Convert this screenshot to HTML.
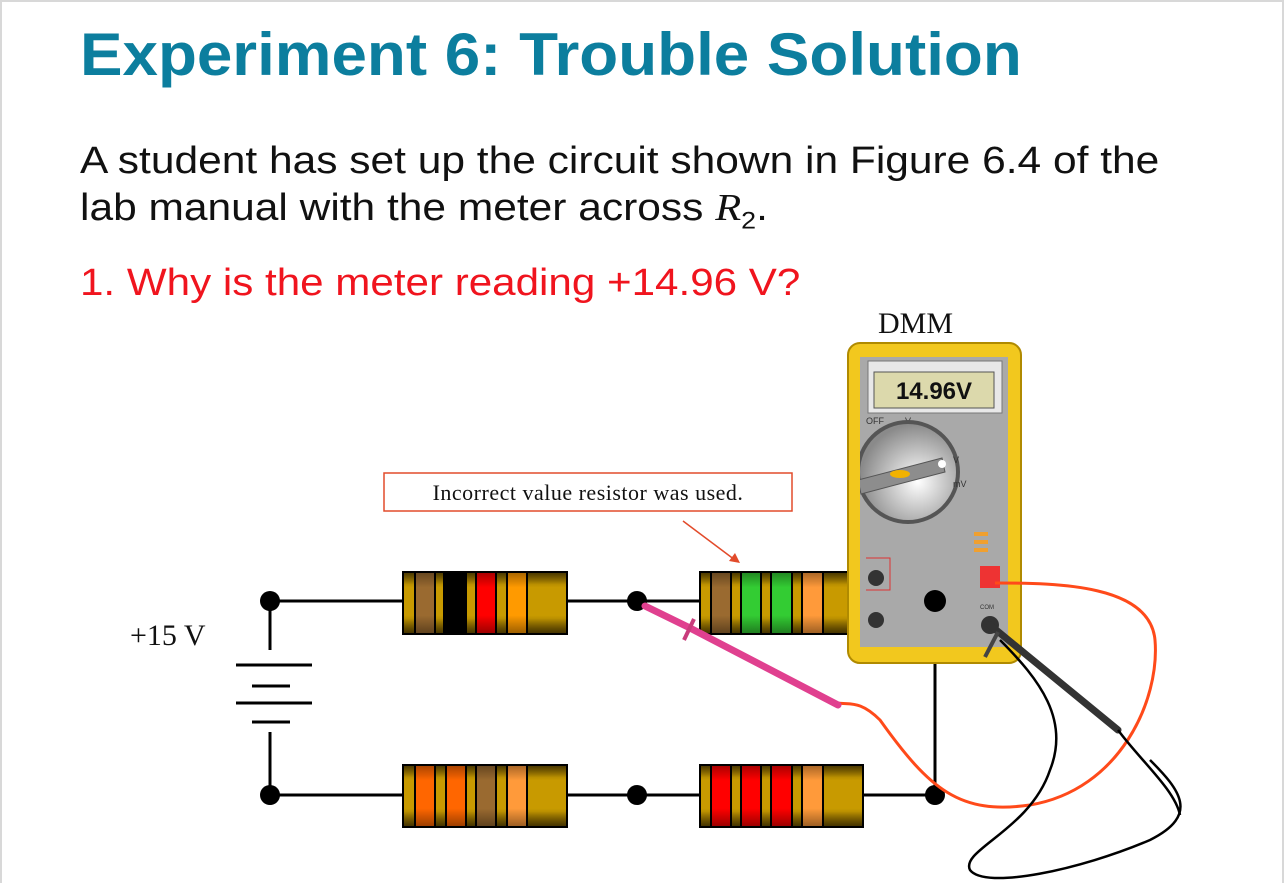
<!DOCTYPE html>
<html><head><style>
html,body{margin:0;padding:0;background:#fff;}
body{width:1284px;height:885px;position:relative;overflow:hidden;font-family:"Liberation Sans",sans-serif;}
.frame{position:absolute;left:0;top:0;width:1280px;height:881px;border:2px solid #d8d8d8;border-bottom:none;}
h1{position:absolute;left:80px;top:20px;margin:0;font-size:60px;font-weight:bold;color:#0c7e9e;transform:scaleX(1.062);transform-origin:0 0;white-space:nowrap;}
.p{position:absolute;left:80px;top:138px;font-size:38px;line-height:47px;color:#111;margin:0;transform:scaleX(1.118);transform-origin:0 0;white-space:nowrap;}
.q{position:absolute;left:80px;top:262px;font-size:38px;color:#f0141e;margin:0;transform:scaleX(1.109);transform-origin:0 0;white-space:nowrap;}
</style></head><body>
<div class="frame"></div>
<h1>Experiment 6: Trouble Solution</h1>
<p class="p">A student has set up the circuit shown in Figure 6.4 of the<br>lab manual with the meter across <i style="font-family:'Liberation Serif',serif">R</i><sub style="font-size:24px">2</sub>.</p>
<p class="q">1. Why is the meter reading +14.96 V?</p>
<svg width="1284" height="885" style="position:absolute;left:0;top:0" xmlns="http://www.w3.org/2000/svg">
<defs>
<linearGradient id="g" x1="0" y1="0" x2="0" y2="1"><stop offset="0" stop-color="#6b5000"/><stop offset=".2" stop-color="#c89a00"/><stop offset=".75" stop-color="#c89a00"/><stop offset="1" stop-color="#6b5000"/></linearGradient>
<linearGradient id="sh" x1="0" y1="0" x2="0" y2="1"><stop offset="0" stop-color="#000" stop-opacity=".35"/><stop offset=".25" stop-color="#000" stop-opacity="0"/><stop offset=".7" stop-color="#000" stop-opacity="0"/><stop offset="1" stop-color="#000" stop-opacity=".4"/></linearGradient>
<radialGradient id="dial" cx=".6" cy=".6" r=".6"><stop offset="0" stop-color="#fff"/><stop offset="1" stop-color="#8a8a8a"/></radialGradient>
<clipPath id="face"><rect x="860" y="357" width="148" height="290"/></clipPath>
</defs>
<text x="878" y="333" font-family="Liberation Serif" font-size="30" fill="#111">DMM</text>
<g stroke="#000" stroke-width="3" fill="none">
<path d="M270 601V650M270 732V795M270 601H403M567 601H700M863 601H935M935 601V795M270 795H403M567 795H700M863 795H935"/>
<path d="M236 665H312M252 686H290M236 703H312M252 722H290"/>
</g>
<text x="130" y="645" font-family="Liberation Serif" font-size="30" fill="#111">+15 V</text>
<g stroke="#000" stroke-width="2">
<g><rect x="403" y="572" width="164" height="62" fill="url(#g)"/><rect x="415" y="572" width="20" height="62" fill="#9a6a30"/><rect x="444" y="572" width="22" height="62" fill="#000"/><rect x="476" y="572" width="20" height="62" fill="#ff0000"/><rect x="507" y="572" width="20" height="62" fill="#ff9a00"/><rect x="403" y="572" width="164" height="62" fill="url(#sh)"/></g>
<g><rect x="700" y="572" width="163" height="62" fill="url(#g)"/><rect x="711" y="572" width="20" height="62" fill="#9a6a30"/><rect x="741" y="572" width="20" height="62" fill="#33cc33"/><rect x="771" y="572" width="21" height="62" fill="#33cc33"/><rect x="802" y="572" width="21" height="62" fill="#ff9a3a"/><rect x="700" y="572" width="163" height="62" fill="url(#sh)"/></g>
<g><rect x="403" y="765" width="164" height="62" fill="url(#g)"/><rect x="415" y="765" width="20" height="62" fill="#ff6600"/><rect x="446" y="765" width="20" height="62" fill="#ff6600"/><rect x="476" y="765" width="20" height="62" fill="#9a6a30"/><rect x="507" y="765" width="20" height="62" fill="#ff9a3a"/><rect x="403" y="765" width="164" height="62" fill="url(#sh)"/></g>
<g><rect x="700" y="765" width="163" height="62" fill="url(#g)"/><rect x="711" y="765" width="20" height="62" fill="#ff0000"/><rect x="741" y="765" width="20" height="62" fill="#ff0000"/><rect x="771" y="765" width="21" height="62" fill="#ff0000"/><rect x="802" y="765" width="21" height="62" fill="#ff9a3a"/><rect x="700" y="765" width="163" height="62" fill="url(#sh)"/></g>
</g>
<rect x="384" y="473" width="408" height="38" fill="#fff" stroke="#e24b2b" stroke-width="1.5"/>
<text x="588" y="500" text-anchor="middle" font-family="Liberation Serif" font-size="22" fill="#111" letter-spacing="0.5">Incorrect value resistor was used.</text>
<path d="M683 521L735 560" stroke="#e24b2b" stroke-width="1.5"/><path d="M740 563L729 561L735 553Z" fill="#e24b2b"/>
<rect x="848" y="343" width="173" height="320" rx="12" fill="#f2c81e" stroke="#b08a00" stroke-width="2"/>
<rect x="860" y="357" width="148" height="290" fill="#a9a9a9"/>
<rect x="868" y="361" width="134" height="52" fill="#e8e8e8" stroke="#777"/>
<rect x="874" y="372" width="120" height="36" fill="#dcd9ac" stroke="#555"/>
<text x="934" y="399" text-anchor="middle" font-family="Liberation Sans" font-weight="bold" font-size="24" fill="#111">14.96V</text>
<text x="866" y="424" font-size="9" fill="#333">OFF</text><text x="905" y="424" font-size="9" fill="#333">V</text>
<g clip-path="url(#face)">
<circle cx="908" cy="472" r="52" fill="#555"/><circle cx="908" cy="472" r="48" fill="url(#dial)"/>
<path d="M858 480L942 458L945 472L861 494Z" fill="#8d8d8d" stroke="#555"/>
</g>
<ellipse cx="900" cy="474" rx="10" ry="4" fill="#f2b200"/>
<circle cx="942" cy="464" r="4" fill="#fff"/>
<text x="953" y="463" font-size="9" fill="#333">V</text><text x="953" y="487" font-size="9" fill="#333">mV</text>
<rect x="974" y="532" width="14" height="4" fill="#f0a030"/><rect x="974" y="540" width="14" height="4" fill="#f0a030"/><rect x="974" y="548" width="14" height="4" fill="#f0a030"/>
<rect x="980" y="566" width="20" height="22" fill="#e33"/>
<circle cx="876" cy="578" r="8" fill="#333"/><circle cx="876" cy="620" r="8" fill="#333"/>
<circle cx="990" cy="625" r="9" fill="#333"/>
<text x="980" y="609" font-size="6" fill="#333">COM</text>
<path d="M866 558H890V590H866" stroke="#d33" fill="none"/>
<g fill="#000"><circle cx="270" cy="601" r="10"/><circle cx="637" cy="601" r="10"/><circle cx="935" cy="601" r="11"/><circle cx="270" cy="795" r="10"/><circle cx="637" cy="795" r="10"/><circle cx="935" cy="795" r="10"/></g>
<path d="M995 583C1060 583 1150 585 1155 640C1160 700 1120 790 1030 805C960 815 930 790 880 720C860 700 850 705 838 703" stroke="#ff4a1a" stroke-width="3" fill="none"/>
<path d="M645 606L690 628M690 628L838 705" stroke="#e0408f" stroke-width="7" stroke-linecap="round"/>
<path d="M684 640L694 619" stroke="#c93c7c" stroke-width="4"/>
<path d="M990 625L1118 730" stroke="#333" stroke-width="7" stroke-linecap="round"/>
<path d="M985 657L998 632" stroke="#444" stroke-width="4"/>
<path d="M1000 640C1040 680 1070 720 1050 770C1030 830 960 850 970 870C985 890 1080 870 1150 840C1200 815 1180 790 1150 760" stroke="#000" stroke-width="2.5" fill="none"/>
<path d="M1118 730C1140 760 1175 790 1180 815" stroke="#000" stroke-width="2.5" fill="none"/>
</svg>
</body></html>
